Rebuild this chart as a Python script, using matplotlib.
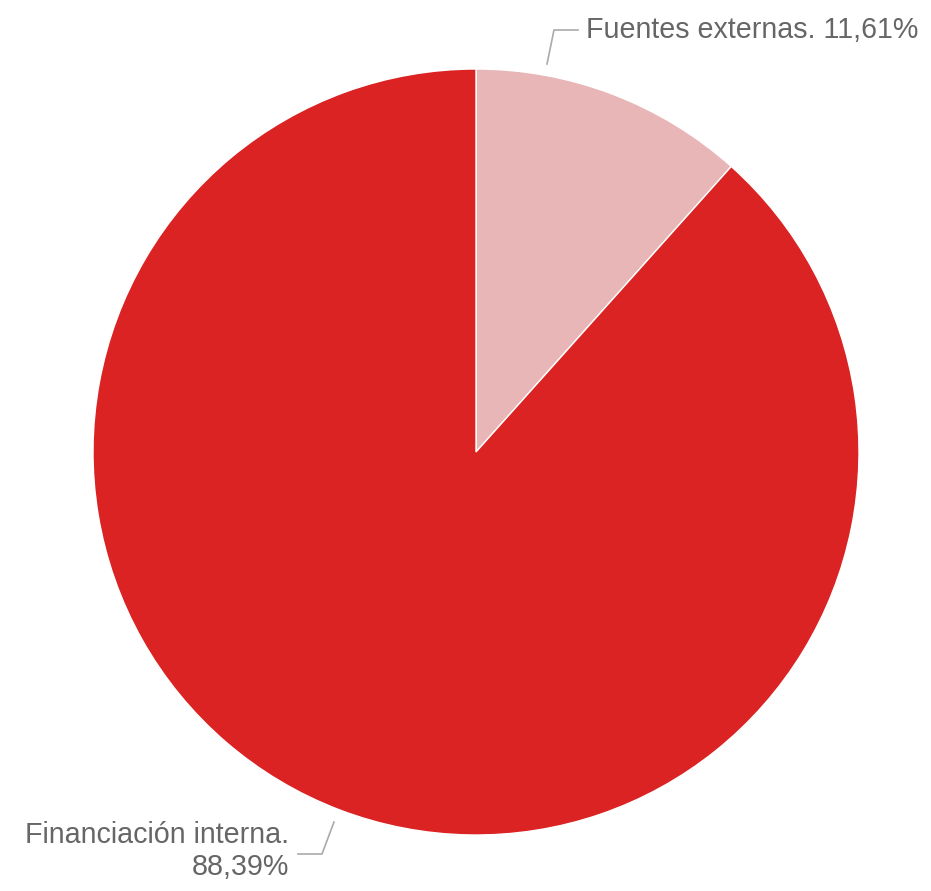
import numpy as np
from matplotlib import pyplot as plt

labels = ['Fuentes externas.', 'Financiación interna.']
values = [11.61, 88.39]
colors = ['#E8B6B6', '#DB2323']

W, H = 931, 891
cx, cy, r = 476, H - 452, 383

fig = plt.figure(figsize=(W / 100, H / 100), dpi=100)
ax = fig.add_axes([0, 0, 1, 1])

ax.pie(values, colors=colors, startangle=90, counterclock=False,
       center=(cx, cy), radius=r, frame=True,
       wedgeprops=dict(edgecolor='white', linewidth=1))
ax.set_xlim(0, W)
ax.set_ylim(0, H)
ax.set_aspect('equal')
ax.axis('off')


def fmt(v):
    # spanish decimal comma
    return f'{v:.2f}%'.replace('.', ',')


txt = dict(color='#666666', fontsize=20.6, family=['Liberation Sans', 'DejaVu Sans'])
line = dict(color='#aaaaaa', lw=1.2)

# fuentes externas label
ax.plot([547, 554, 578], [H - 64, H - 30, H - 30], **line)
ax.text(586, H - 30, f'{labels[0]} {fmt(values[0])}',
        ha='left', va='center', **txt)

# financiacion interna label
ax.plot([334, 322, 298], [H - 822, H - 854, H - 854], **line)
ax.text(289, H - 851, f'{labels[1]}\n{fmt(values[1])}', ha='right', va='center',
        multialignment='right', linespacing=1.2, **txt)

fig.savefig('out.png', dpi=100)
